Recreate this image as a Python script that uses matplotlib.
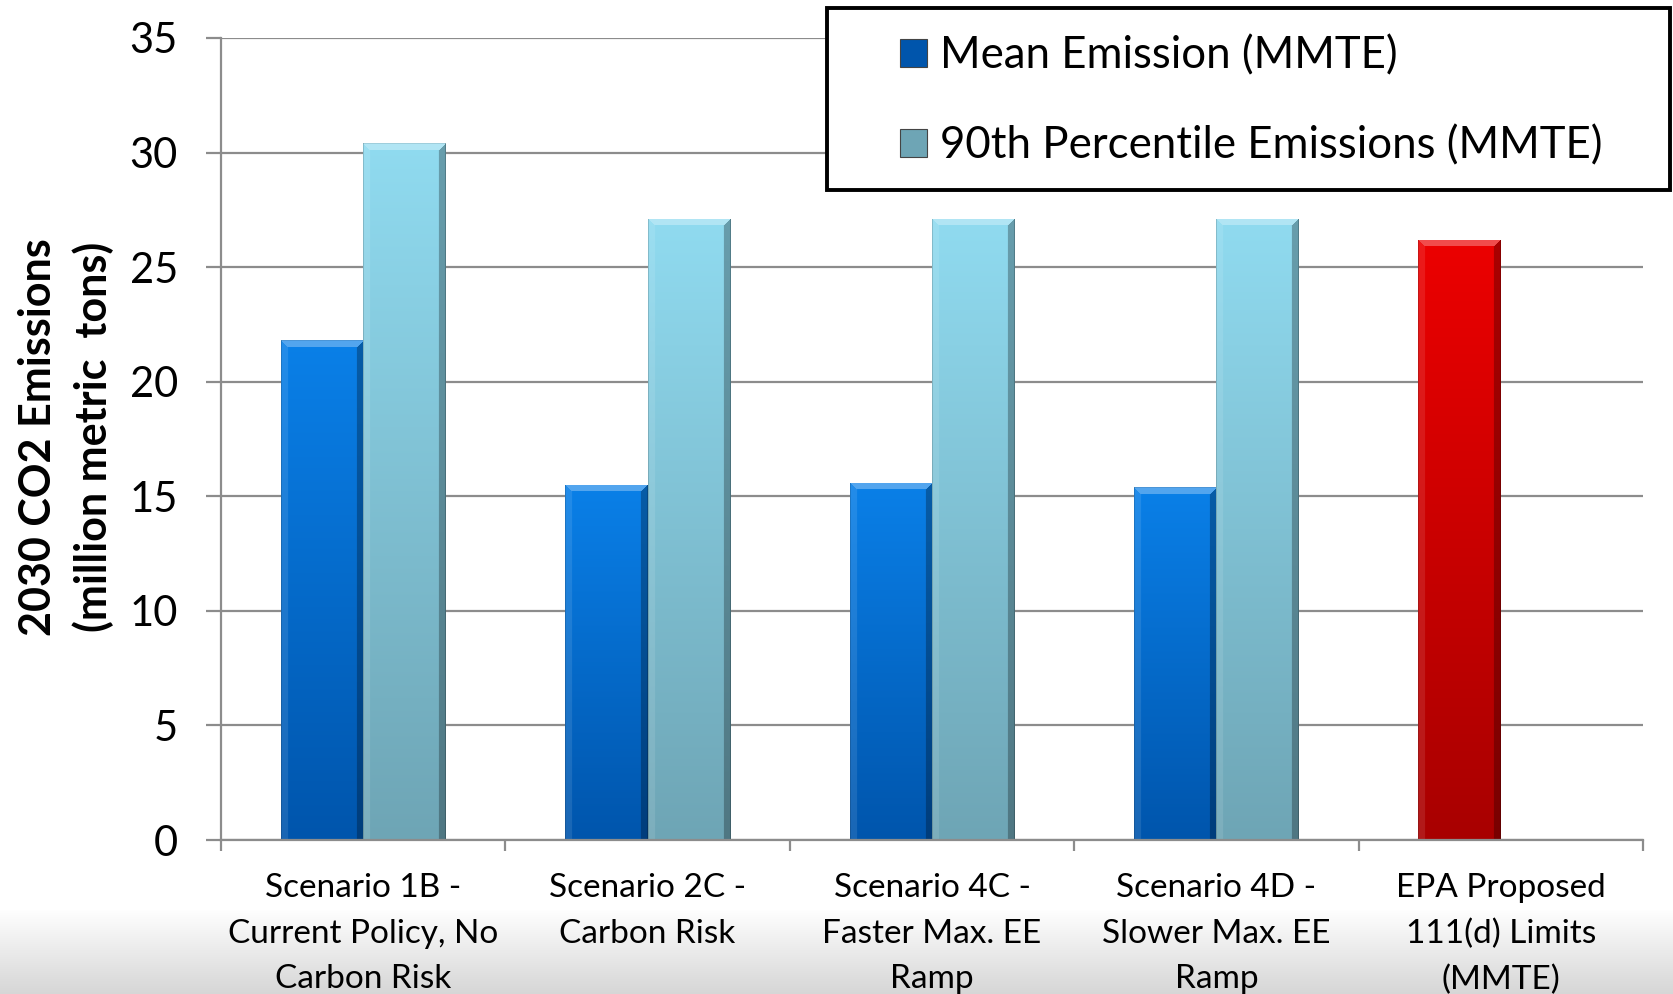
import numpy as np
import matplotlib
matplotlib.use("Agg")
import matplotlib.pyplot as plt
from matplotlib.colors import to_rgb
from matplotlib.patches import Rectangle

# ---------------- data ----------------
categories = [
    "Scenario 1B -\nCurrent Policy, No\nCarbon Risk",
    "Scenario 2C -\nCarbon Risk",
    "Scenario 4C -\nFaster Max. EE\nRamp",
    "Scenario 4D -\nSlower Max. EE\nRamp",
    "EPA Proposed\n111(d) Limits\n(MMTE)",
]
mean_emission = [21.8, 15.5, 15.6, 15.4, 26.2]
p90_emission = [30.4, 27.1, 27.1, 27.1, np.nan]
series_names = ["Mean Emission (MMTE)", "90th Percentile Emissions (MMTE)"]
y_ticks = [0, 5, 10, 15, 20, 25, 30, 35]
y_label = "2030 CO2 Emissions\n(million metric  tons)"

# ---------------- style ----------------
plt.rcParams["font.family"] = ["Lato", "DejaVu Sans"]
GRID = "#8C8C8C"
blue_top, blue_bot = "#0A80E8", "#0055AC"
cyan_top, cyan_bot = "#90DBF0", "#6EA5B5"
red_top, red_bot = "#EC0000", "#A80000"

W_PX, H_PX = 1673, 994
fig = plt.figure(figsize=(W_PX / 100, H_PX / 100), dpi=100)
fig.patch.set_facecolor("white")

# bottom grey gradient band
bg = fig.add_axes([0, 0, 1, 0.085], zorder=-1)
g = np.linspace(0, 1, 256)[:, None]
c0, c1 = np.array(to_rgb("#FFFFFF")), np.array(to_rgb("#D6D6D6"))
grad = (c0 * (1 - g) + c1 * g)[:, None, :].repeat(2, axis=1)
bg.imshow(grad, aspect="auto", extent=(0, 1, 0, 1), origin="upper")
bg.axis("off")

ax = fig.add_axes([0.1321, 0.1549, 0.8500, 0.8069])
ax.set_facecolor("white")

x = np.arange(len(categories))
w = 0.29
b_mean = ax.bar(x - w / 2, mean_emission, w, color=blue_top, zorder=3,
                label=series_names[0], linewidth=0)
b_p90 = ax.bar(x + w / 2, p90_emission, w, color=cyan_top, zorder=3,
               label=series_names[1], linewidth=0)
b_mean.patches[-1].set_facecolor(red_top)

ax.set_xlim(-0.5, len(categories) - 0.5)
ax.set_ylim(0, 35)


def bar_image(top, bot, wpx, hpx, bevel=7):
    H, Wd = max(int(hpx), 2), max(int(wpx), 2)
    t = np.linspace(0, 1, H)[:, None, None]
    top, bot = np.array(to_rgb(top)), np.array(to_rgb(bot))
    img = (top * (1 - t) + bot * t) * np.ones((H, Wd, 3))
    rr, cc = np.mgrid[0:H, 0:Wd]
    dt, dl, dr = rr, cc, Wd - 1 - cc
    dmin = np.minimum(np.minimum(dt, dl), dr)
    inb = dmin < bevel
    top_m = inb & (dt == dmin)
    left_m = inb & (dl == dmin) & ~top_m
    right_m = inb & (dr == dmin) & ~top_m
    img[top_m] = img[top_m] * 0.7 + 0.3
    img[left_m] = img[left_m] * 0.9 + 0.1
    img[right_m] = img[right_m] * 0.72
    # thin outline
    img[:, -1] *= 0.8
    img[:, 0] *= 0.85
    img[0, :] *= 0.9
    return np.clip(img, 0, 1)


fig.canvas.draw()
tr = ax.transData
for patches, (ct, cb) in ((b_mean.patches, (blue_top, blue_bot)),
                          (b_p90.patches, (cyan_top, cyan_bot))):
    for i, p in enumerate(patches):
        h = p.get_height()
        if not np.isfinite(h):
            continue
        top_c, bot_c = ct, cb
        if patches is b_mean.patches and i == len(patches) - 1:
            top_c, bot_c = red_top, red_bot
        x0, y0, pw = p.get_x(), p.get_y(), p.get_width()
        (px0, py0), (px1, py1) = tr.transform([(x0, y0), (x0 + pw, y0 + h)])
        img = bar_image(top_c, bot_c, px1 - px0, py1 - py0)
        im = ax.imshow(img, extent=(x0, x0 + pw, y0, y0 + h), aspect="auto",
                       origin="upper", zorder=3.1, interpolation="bilinear")
        im.set_clip_path(p)

ax.set_xlim(-0.5, len(categories) - 0.5)
ax.set_ylim(0, 35)

# axes styling
for s in ("top", "right"):
    ax.spines[s].set_visible(False)
for s in ("left", "bottom"):
    ax.spines[s].set_color(GRID)
    ax.spines[s].set_linewidth(1.6)
    ax.spines[s].set_zorder(4)

ax.set_yticks(y_ticks)
ax.set_yticklabels([str(v) for v in y_ticks], fontsize=30)
ax.tick_params(axis="y", length=11, width=1.6, color=GRID, pad=20)
ax.yaxis.grid(True, color=GRID, linewidth=1.6, zorder=0)
ax.set_axisbelow(True)

ax.set_xticks(np.arange(-0.5, len(categories), 1.0))
ax.set_xticklabels([])
ax.tick_params(axis="x", which="major", length=8, width=1.6, color=GRID)
ax.set_xticks(x, minor=True)
ax.set_xticklabels(categories, minor=True, fontsize=24, linespacing=1.64)
ax.tick_params(axis="x", which="minor", length=0, pad=24)

fig.text(66 / W_PX, 1 - 437 / H_PX, y_label, rotation=90, ha="center",
         va="center", fontsize=31, fontweight="bold", linespacing=1.42)

# legend box
fig.patches.append(Rectangle((827 / W_PX, 1 - 190 / H_PX), 843 / W_PX,
                             181.5 / H_PX, transform=fig.transFigure,
                             facecolor="white", edgecolor="black",
                             linewidth=2.8, zorder=1))
leg = fig.legend(handles=[b_mean, b_p90], labels=series_names,
                 loc="upper left", bbox_to_anchor=(900 / W_PX, 1 - 35 / H_PX),
                 frameon=False, fontsize=31.5, borderpad=0, borderaxespad=0,
                 handlelength=0.62, handleheight=0.62, handletextpad=0.3,
                 labelspacing=1.12)
leg.set_zorder(6)
for hnd, c in zip(leg.legend_handles, [blue_bot, cyan_bot]):
    hnd.set_facecolor(c)
    hnd.set_edgecolor("#444444")
    hnd.set_linewidth(0.8)

fig.savefig("out.png", dpi=100, facecolor="white")
